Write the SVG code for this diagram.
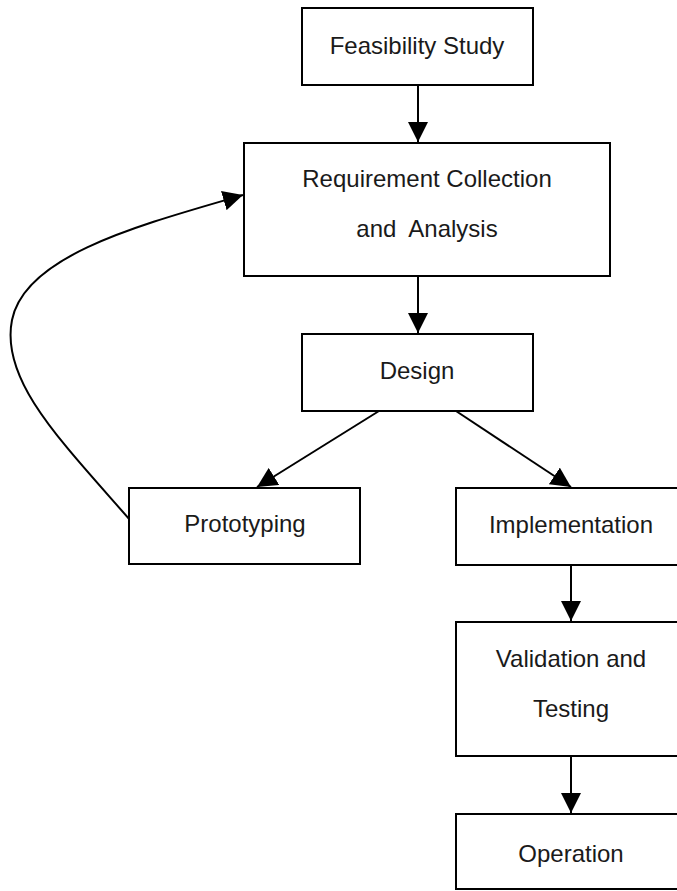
<svg xmlns="http://www.w3.org/2000/svg" width="677" height="891" viewBox="0 0 677 891">
  <defs>
    <marker id="arrow" markerUnits="userSpaceOnUse" markerWidth="20" markerHeight="20" refX="20" refY="10" orient="auto">
      <path d="M0,0 L20,10 L0,20 Z" fill="#000"/>
    </marker>
    <style>
      .box { fill: #fff; stroke: #000; stroke-width: 2; }
      .lbl { font-family: "Liberation Sans", Arial, sans-serif; font-size: 24px; fill: #1a1a1a; text-anchor: middle; }
      .edge { fill: none; stroke: #000; stroke-width: 2; marker-end: url(#arrow); }
    </style>
  </defs>
  <rect width="677" height="891" fill="#fff"/>

  <!-- connectors -->
  <g id="connectors">
    <line class="edge" x1="418" y1="85" x2="418" y2="142"/>
    <line class="edge" x1="418" y1="276" x2="418" y2="333"/>
    <line class="edge" x1="379" y1="411" x2="257" y2="487"/>
    <line class="edge" x1="456" y1="411" x2="571" y2="487"/>
    <line class="edge" x1="571" y1="565" x2="571" y2="621"/>
    <line class="edge" x1="571" y1="756" x2="571" y2="813"/>
    <path class="edge" d="M130,520 C60,440 0,380 12,320 C25,255 140,225 243,195"/>
  </g>

  <!-- process steps -->
  <g id="feasibility">
    <rect class="box" x="302" y="8" width="231" height="77"/>
    <text class="lbl" x="417" y="54">Feasibility Study</text>
  </g>
  <g id="requirements">
    <rect class="box" x="244" y="143" width="366" height="133"/>
    <text class="lbl" x="427" y="187">Requirement Collection</text>
    <text class="lbl" x="427" y="237" xml:space="preserve">and  Analysis</text>
  </g>
  <g id="design">
    <rect class="box" x="302" y="334" width="231" height="77"/>
    <text class="lbl" x="417" y="379">Design</text>
  </g>
  <g id="prototyping">
    <rect class="box" x="129" y="488" width="231" height="76"/>
    <text class="lbl" x="245" y="532">Prototyping</text>
  </g>
  <g id="implementation">
    <rect class="box" x="456" y="488" width="230" height="77"/>
    <text class="lbl" x="571" y="533">Implementation</text>
  </g>
  <g id="validation">
    <rect class="box" x="456" y="622" width="230" height="134"/>
    <text class="lbl" x="571" y="667">Validation and</text>
    <text class="lbl" x="571" y="717">Testing</text>
  </g>
  <g id="operation">
    <rect class="box" x="456" y="814" width="230" height="75"/>
    <text class="lbl" x="571" y="862">Operation</text>
  </g>
</svg>
